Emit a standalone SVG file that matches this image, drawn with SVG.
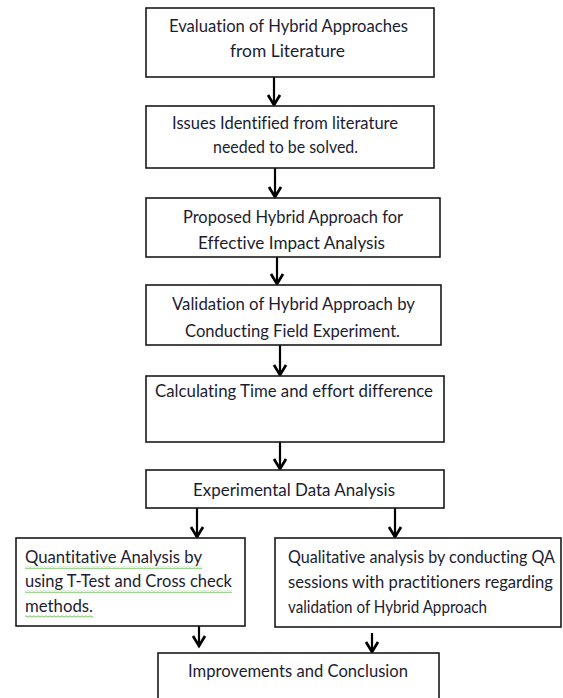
<svg xmlns="http://www.w3.org/2000/svg" width="563" height="698" viewBox="0 0 563 698">
<style>
  .box{fill:#fff;stroke:#1a1a1a;stroke-width:1.6}
  .t{font-family:Lato,"Open Sans","Liberation Sans",sans-serif;font-size:17px;fill:#1c1c30;font-variant-ligatures:none}
  .c{stroke:#000;stroke-width:2.2;fill:none}
</style>
<defs>
  <marker id="arr" markerUnits="userSpaceOnUse" markerWidth="18" markerHeight="18" refX="12" refY="8" orient="auto">
    <path d="M2,2 L12,8 L2,14" fill="none" stroke="#000" stroke-width="2.7"/>
  </marker>
  <pattern id="squig" patternUnits="userSpaceOnUse" width="4" height="3">
    <path d="M0,2.2 L2,0.8 L4,2.2" fill="none" stroke="#5cb845" stroke-width="0.9"/>
  </pattern>
</defs>
<rect width="563" height="698" fill="#fff"/>
<g id="connectors">
  <line class="c" x1="274" y1="77" x2="274" y2="105" marker-end="url(#arr)"/>
  <line class="c" x1="275" y1="168" x2="275" y2="197" marker-end="url(#arr)"/>
  <line class="c" x1="277" y1="257" x2="277" y2="284" marker-end="url(#arr)"/>
  <line class="c" x1="280" y1="345" x2="280" y2="375" marker-end="url(#arr)"/>
  <line class="c" x1="280" y1="442" x2="280" y2="469" marker-end="url(#arr)"/>
  <line class="c" x1="197" y1="508" x2="197" y2="537" marker-end="url(#arr)"/>
  <line class="c" x1="395" y1="508" x2="395" y2="537" marker-end="url(#arr)"/>
  <line class="c" x1="199" y1="626" x2="199" y2="646" marker-end="url(#arr)"/>
  <line class="c" x1="372" y1="633" x2="372" y2="652" marker-end="url(#arr)"/>
</g>
<g id="n1">
  <rect class="box" x="146" y="8" width="288" height="69"/>
  <text class="t" x="169" y="32" textLength="239" lengthAdjust="spacingAndGlyphs">Evaluation of Hybrid Approaches</text>
  <text class="t" x="230" y="57" textLength="115" lengthAdjust="spacingAndGlyphs">from Literature</text>
</g>
<g id="n2">
  <rect class="box" x="146" y="106" width="288" height="62"/>
  <text class="t" x="172" y="129" textLength="226" lengthAdjust="spacingAndGlyphs">Issues Identified from literature</text>
  <text class="t" x="213" y="153" textLength="145" lengthAdjust="spacingAndGlyphs">needed to be solved.</text>
</g>
<g id="n3">
  <rect class="box" x="146" y="198" width="294" height="59"/>
  <text class="t" x="183" y="223" textLength="220" lengthAdjust="spacingAndGlyphs">Proposed Hybrid Approach for</text>
  <text class="t" x="198" y="249" textLength="187" lengthAdjust="spacingAndGlyphs">Effective Impact Analysis</text>
</g>
<g id="n4">
  <rect class="box" x="146" y="285" width="295" height="60"/>
  <text class="t" x="172" y="310" textLength="243" lengthAdjust="spacingAndGlyphs">Validation of Hybrid Approach by</text>
  <text class="t" x="185" y="337" textLength="215" lengthAdjust="spacingAndGlyphs">Conducting Field Experiment.</text>
</g>
<g id="n5">
  <rect class="box" x="146" y="376" width="298" height="66"/>
  <text class="t" x="155" y="397" textLength="278" lengthAdjust="spacingAndGlyphs">Calculating Time and effort difference</text>
</g>
<g id="n6">
  <rect class="box" x="146" y="470" width="298" height="38"/>
  <text class="t" x="193" y="496" textLength="202" lengthAdjust="spacingAndGlyphs">Experimental Data Analysis</text>
</g>
<g id="n7">
  <rect class="box" x="16" y="538" width="229" height="88"/>
  <text class="t" x="25" y="563" textLength="177" lengthAdjust="spacingAndGlyphs">Quantitative Analysis by</text>
  <text class="t" x="25" y="587" textLength="207" lengthAdjust="spacingAndGlyphs">using T-Test and Cross check</text>
  <text class="t" x="25" y="612" textLength="68" lengthAdjust="spacingAndGlyphs">methods.</text>
  <rect x="25" y="566" width="177" height="3" fill="url(#squig)"/>
  <rect x="25" y="590" width="207" height="3" fill="url(#squig)"/>
  <rect x="25" y="615" width="68" height="3" fill="url(#squig)"/>
</g>
<g id="n8">
  <rect class="box" x="275" y="538" width="286" height="89"/>
  <text class="t" x="288" y="563" textLength="267" lengthAdjust="spacingAndGlyphs">Qualitative analysis by conducting QA</text>
  <text class="t" x="288" y="588" textLength="265" lengthAdjust="spacingAndGlyphs">sessions with practitioners regarding</text>
  <text class="t" x="288" y="613" textLength="199" lengthAdjust="spacingAndGlyphs">validation of Hybrid Approach</text>
</g>
<g id="n9">
  <rect class="box" x="158" y="653" width="281" height="50"/>
  <text class="t" x="188" y="677" textLength="220" lengthAdjust="spacingAndGlyphs">Improvements and Conclusion</text>
</g>
</svg>
